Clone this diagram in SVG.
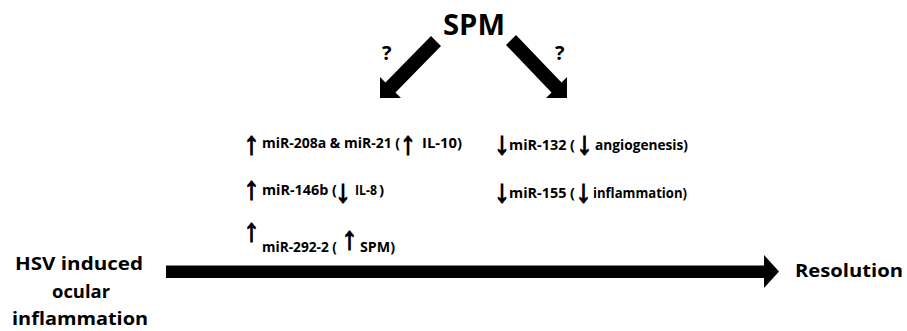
<svg xmlns="http://www.w3.org/2000/svg" width="907" height="331" viewBox="0 0 907 331">
  <style>
    text { font-family: "Open Sans", "Noto Sans", "Liberation Sans", sans-serif; font-weight: bold; fill: #000; }
    .big { font-size: 28px; }
    .q { font-size: 20px; }
    .lbl { font-size: 18px; }
    .mir { font-size: 14px; }
    .arw { font-family: "Liberation Sans", "DejaVu Sans", sans-serif; font-size: 22px; stroke: #000; stroke-width: 0.9; }
    .mid { text-anchor: middle; }
    .shape { fill: #000; stroke: none; }
  </style>

  <!-- connectors: SPM branches and the main time-course arrow -->
  <g id="connectors">
    <polygon class="shape" points="431,36 441,46 395.5,92.5 401,98 380,98 380,77 385.5,82.5"/>
    <polygon class="shape" points="506,45 516,35 561.5,82.5 567,77 567,98 546,98 551.5,92.5"/>
    <polygon class="shape" points="166,265.5 764,265.5 764,255 779,271.5 764,288 764,278 166,278"/>
  </g>

  <g id="spm">
    <text class="big" x="443" y="35" textLength="62" lengthAdjust="spacingAndGlyphs">SPM</text>
    <text class="q" x="382" y="60">?</text>
    <text class="q" x="555" y="60">?</text>
  </g>

  <!-- arrow glyphs are stretched to stand taller than the words -->
  <g id="up-regulated">
    <text class="arw" transform="translate(244,154) scale(1.4,1.45)">↑</text>
    <text class="mir" x="262" y="148" textLength="138" lengthAdjust="spacingAndGlyphs">miR-208a &amp; miR-21 (</text>
    <text class="arw" transform="translate(400.5,154) scale(1.4,1.45)">↑</text>
    <text class="mir" x="422" y="148" textLength="40" lengthAdjust="spacingAndGlyphs">IL-10)</text>

    <text class="arw" transform="translate(244,198.5) scale(1.4,1.45)">↑</text>
    <text class="mir" x="262" y="195" textLength="75" lengthAdjust="spacingAndGlyphs">miR-146b (</text>
    <text class="arw" transform="translate(335.5,201.5) scale(1.4,1.45)">↓</text>
    <text class="mir" x="355" y="195" textLength="22" lengthAdjust="spacingAndGlyphs">IL-8</text>
    <text class="mir" x="379" y="195" style="font-size:15px">)</text>

    <text class="arw" transform="translate(244,240.5) scale(1.4,1.45)">↑</text>
    <text class="mir" x="262" y="252" textLength="75" lengthAdjust="spacingAndGlyphs">miR-292-2 (</text>
    <text class="arw" transform="translate(342,249) scale(1.4,1.45)">↑</text>
    <text class="mir" x="360" y="252" textLength="35" lengthAdjust="spacingAndGlyphs">SPM)</text>
  </g>

  <g id="down-regulated">
    <text class="arw" transform="translate(494.5,154) scale(1.4,1.45)">↓</text>
    <text class="mir" x="509" y="150" textLength="66" lengthAdjust="spacingAndGlyphs">miR-132 (</text>
    <text class="arw" transform="translate(577,154) scale(1.4,1.45)">↓</text>
    <text class="mir" x="595" y="150" textLength="93" lengthAdjust="spacingAndGlyphs">angiogenesis)</text>

    <text class="arw" transform="translate(494.5,201.5) scale(1.4,1.45)">↓</text>
    <text class="mir" x="509" y="198" textLength="66" lengthAdjust="spacingAndGlyphs">miR-155 (</text>
    <text class="arw" transform="translate(576,201.5) scale(1.4,1.45)">↓</text>
    <text class="mir" x="593" y="198" textLength="94" lengthAdjust="spacingAndGlyphs">inflammation)</text>
  </g>

  <g id="start">
    <text class="lbl mid" x="79" y="270" textLength="128" lengthAdjust="spacingAndGlyphs">HSV induced</text>
    <text class="lbl mid" x="81" y="298" textLength="58" lengthAdjust="spacingAndGlyphs">ocular</text>
    <text class="lbl mid" x="80" y="325" textLength="136" lengthAdjust="spacingAndGlyphs">inflammation</text>
  </g>

  <g id="end">
    <text class="lbl" x="795" y="277" textLength="108" lengthAdjust="spacingAndGlyphs">Resolution</text>
  </g>
</svg>
